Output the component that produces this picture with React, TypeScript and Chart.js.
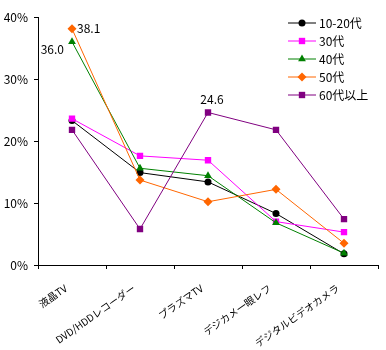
import React, { useEffect, useRef } from "react";
import { Chart, registerables } from "chart.js";

Chart.register(...registerables);

const categories = ["液晶TV", "DVD/HDDレコーダー", "プラズマTV", "デジカメ一眼レフ", "デジタルビデオカメラ"];
const seriesNames = ["10-20代", "30代", "40代", "50代", "60代以上"];
const s1020 = [23.3, 14.9, 13.4, 8.3, 1.8];
const s30 = [23.6, 17.6, 16.9, 7.0, 5.3];
const s40 = [36.0, 15.6, 14.4, 6.8, 1.9];
const s50 = [38.1, 13.7, 10.2, 12.2, 3.5];
const s60 = [21.8, 5.8, 24.6, 21.8, 7.4];
const yTicks = [0, 10, 20, 30, 40];
const colors = ["#000000", "#FF00FF", "#008000", "#FF6600", "#800080"];
const pointStyles = ["circle", "rect", "triangle", "rectRot", "rect"];
const pointRadii = [3.5, 4.5, 4.5, 4.5, 4.5];
const allSeries = [s1020, s30, s40, s50, s60];

const FONT = "'Noto Sans CJK JP', sans-serif";

function drawPoint(ctx: CanvasRenderingContext2D, style: string, r: number, x: number, y: number, color: string) {
  ctx.fillStyle = color;
  ctx.beginPath();
  if (style === "circle") {
    ctx.arc(x, y, r, 0, Math.PI * 2);
  } else if (style === "rect") {
    const s = r * Math.SQRT1_2;
    ctx.rect(x - s, y - s, 2 * s, 2 * s);
  } else if (style === "triangle") {
    ctx.moveTo(x, y - r);
    ctx.lineTo(x + r * 0.87, y + r * 0.5);
    ctx.lineTo(x - r * 0.87, y + r * 0.5);
    ctx.closePath();
  } else {
    ctx.moveTo(x, y - r);
    ctx.lineTo(x + r, y);
    ctx.lineTo(x, y + r);
    ctx.lineTo(x - r, y);
    ctx.closePath();
  }
  ctx.fill();
}

const labelPlugin = {
  id: "labels",
  afterDatasetsDraw(chart: any) {
    const ctx = chart.ctx;
    ctx.save();
    ctx.font = `12px ${FONT}`;
    ctx.fillStyle = "#000";
    ctx.textBaseline = "middle";
    const p40 = chart.getDatasetMeta(2).data[0];
    ctx.textAlign = "right";
    ctx.fillText(s40[0].toFixed(1), p40.x - 8, p40.y + 8);
    const p50 = chart.getDatasetMeta(3).data[0];
    ctx.textAlign = "left";
    ctx.fillText(s50[0].toFixed(1), p50.x + 5, p50.y);
    const p60 = chart.getDatasetMeta(4).data[2];
    ctx.textAlign = "center";
    ctx.fillText(s60[2].toFixed(1), p60.x + 4, p60.y - 13);

    // category labels, rotated
    const xs = chart.scales.x;
    ctx.font = `10px ${FONT}`;
    ctx.textAlign = "right";
    ctx.textBaseline = "middle";
    categories.forEach((c, i) => {
      const x = xs.getPixelForTick(i) - 6;
      const y = xs.top + 22;
      ctx.save();
      ctx.translate(x, y);
      ctx.rotate((-35 * Math.PI) / 180);
      ctx.fillText(c, 0, 0);
      ctx.restore();
    });

    // legend
    const lx0 = 288, lx1 = 316, tx = 319, y0 = 23, dy = 18;
    seriesNames.forEach((name, i) => {
      const y = y0 + i * dy;
      ctx.strokeStyle = colors[i];
      ctx.lineWidth = 1;
      ctx.beginPath();
      ctx.moveTo(lx0, y);
      ctx.lineTo(lx1, y);
      ctx.stroke();
      drawPoint(ctx, pointStyles[i], pointRadii[i], (lx0 + lx1) / 2, y, colors[i]);
      ctx.fillStyle = "#000";
      ctx.textAlign = "left";
      ctx.textBaseline = "middle";
      ctx.font = `12px ${FONT}`;
      ctx.fillText(name, tx, y);
    });
    ctx.restore();
  },
};

export default function App() {
  const ref = useRef<HTMLCanvasElement>(null);
  useEffect(() => {
    document.body.style.margin = "0";
    const chart = new Chart(ref.current!, {
      type: "line",
      data: {
        labels: categories,
        datasets: allSeries.map((d, i) => ({
          label: seriesNames[i],
          data: d,
          order: allSeries.length - i,
          borderColor: colors[i],
          backgroundColor: colors[i],
          borderWidth: 1,
          pointStyle: pointStyles[i] as any,
          pointRadius: pointRadii[i],
          pointBorderWidth: 0,
          tension: 0,
        })),
      },
      options: {
        animation: false,
        responsive: false,
        maintainAspectRatio: false,
        layout: { padding: { top: 17, right: 8, left: 0, bottom: 0 } },
        plugins: { legend: { display: false }, tooltip: { enabled: false } },
        scales: {
          x: {
            offset: true,
            grid: { offset: true, drawOnChartArea: false, color: "#000", tickLength: 4 },
            border: { color: "#000", width: 1 },
            ticks: { display: false },
            afterFit(scale: any) {
              scale.height = 85;
            },
          },
          y: {
            min: 0,
            max: 40,
            afterBuildTicks(scale: any) {
              scale.ticks = yTicks.map((v) => ({ value: v }));
            },
            grid: { drawOnChartArea: false, color: "#000", tickLength: 4 },
            border: { color: "#000", width: 1 },
            ticks: {
              color: "#000",
              font: { family: FONT, size: 12 },
              callback: (v: any) => `${v}%`,
              padding: 6,
            },
            afterFit(scale: any) {
              scale.width = 38;
            },
          },
        },
      },
      plugins: [labelPlugin],
    });
    return () => chart.destroy();
  }, []);
  return <canvas ref={ref} width={386} height={350} style={{ display: "block" }} />;
}
